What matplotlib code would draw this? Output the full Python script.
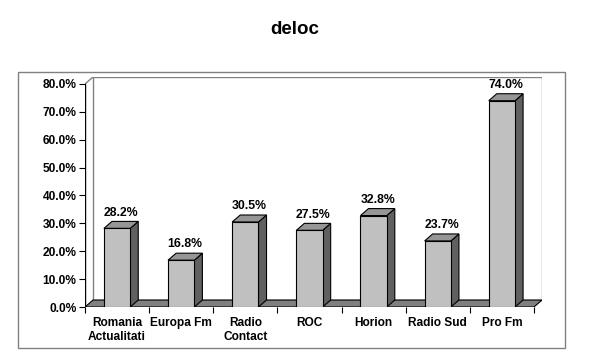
import matplotlib.pyplot as plt
from matplotlib.patches import Polygon, Rectangle

plt.rcParams['font.family'] = ['Liberation Sans', 'DejaVu Sans']

# data
stations = ["Romania\nActualitati", "Europa Fm", "Radio\nContact", "ROC",
            "Horion", "Radio Sud", "Pro Fm"]
values = [28.2, 16.8, 30.5, 27.5, 32.8, 23.7, 74.0]
yticks = [0, 10, 20, 30, 40, 50, 60, 70, 80]

W, H = 590, 354
fig = plt.figure(figsize=(W / 100, H / 100), dpi=100)

# outer chart border
fig.patches.append(Rectangle((18 / W, (H - 348) / H), (565 - 18) / W, (348 - 72) / H,
                             transform=fig.transFigure, fill=False,
                             edgecolor="#808080", linewidth=1))

ax = fig.add_axes([85 / W, (H - 307) / H, (542 - 85) / W, (307 - 77) / H])
dx, dy = 0.125, 2.5          # depth offset in data units
n = len(values)
ax.set_xlim(-0.5, n - 0.5 + dx)
ax.set_ylim(0, 80 + dy)
for s in ax.spines.values():
    s.set_visible(False)
ax.patch.set_visible(False)

# back wall
ax.add_patch(Rectangle((-0.5 + dx, dy), n, 80, facecolor="white",
                       edgecolor="#808080", linewidth=1, zorder=1))
ax.plot([-0.5, -0.5 + dx], [80, 80 + dy], color="#808080", lw=1, zorder=1)

# floor
ax.add_patch(Polygon([(-0.5, 0), (n - 0.5, 0), (n - 0.5 + dx, dy), (-0.5 + dx, dy)],
                     closed=True, facecolor="#808080", edgecolor="black",
                     linewidth=0.8, zorder=2))
ax.plot([-0.5, -0.5], [0, 80], color="black", lw=1, zorder=3)

# bars
w = 0.41
xs = list(range(n))
ax.bar(xs, values, width=w, color="#C0C0C0", edgecolor="black", linewidth=0.8, zorder=5)
for x, v in zip(xs, values):
    side = [(x + w / 2, 0), (x + w / 2 + dx, dy), (x + w / 2 + dx, v + dy), (x + w / 2, v)]
    top = [(x - w / 2, v), (x + w / 2, v), (x + w / 2 + dx, v + dy), (x - w / 2 + dx, v + dy)]
    ax.add_patch(Polygon(side, closed=True, facecolor="#606060", edgecolor="black",
                         linewidth=0.8, zorder=4))
    ax.add_patch(Polygon(top, closed=True, facecolor="#969696", edgecolor="black",
                         linewidth=0.8, zorder=4))
    ax.text(x + dx / 2, v + dy + 1.0, f"{v:.1f}%", ha="center", va="bottom",
            fontsize=8.8, fontweight="bold", zorder=6)

# ticks
ax.set_yticks(yticks)
ax.set_yticklabels([f"{t:.1f}%" for t in yticks])
ax.set_xticks([i - 0.5 for i in range(n + 1)])
ax.set_xticklabels([])
ax.set_xticks(xs, minor=True)
ax.set_xticklabels(stations, minor=True, linespacing=1.3)
ax.tick_params(axis="y", direction="out", length=4, width=0.8, pad=2,
               labelsize=8.6)
ax.tick_params(axis="x", which="major", direction="out", length=4, width=0.8)
ax.tick_params(axis="x", which="minor", length=0, pad=7, labelsize=8.6)
for lbl in ax.get_yticklabels() + ax.get_xticklabels(minor=True):
    lbl.set_fontweight("bold")

fig.text(295 / W, 1 - 30 / H, "deloc", ha="center", va="center",
         fontsize=13.5, fontweight="bold")

fig.savefig("out.png", dpi=100)
